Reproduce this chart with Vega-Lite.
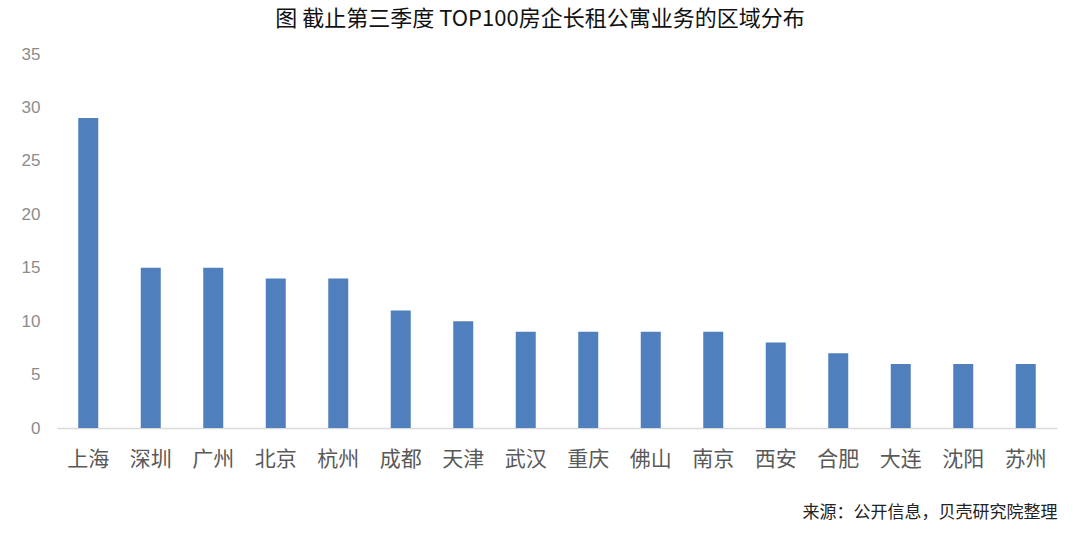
{
  "$schema": "https://vega.github.io/schema/vega-lite/v6.json",
  "autosize": "none",
  "width": 1000,
  "height": 374,
  "padding": {"left": 57, "top": 54, "right": 23, "bottom": 109},
  "background": "white",
  "title": {
    "text": "图 截止第三季度 TOP100房企长租公寓业务的区域分布",
    "font": "Noto Sans CJK SC",
    "fontSize": 22,
    "fontWeight": "normal",
    "color": "#111111",
    "anchor": "middle",
    "frame": "group",
    "dx": -17,
    "offset": 14
  },
  "data": {
    "values": [
      {"city": "上海", "value": 29},
      {"city": "深圳", "value": 15},
      {"city": "广州", "value": 15},
      {"city": "北京", "value": 14},
      {"city": "杭州", "value": 14},
      {"city": "成都", "value": 11},
      {"city": "天津", "value": 10},
      {"city": "武汉", "value": 9},
      {"city": "重庆", "value": 9},
      {"city": "佛山", "value": 9},
      {"city": "南京", "value": 9},
      {"city": "西安", "value": 8},
      {"city": "合肥", "value": 7},
      {"city": "大连", "value": 6},
      {"city": "沈阳", "value": 6},
      {"city": "苏州", "value": 6}
    ]
  },
  "mark": {"type": "bar", "color": "#4f80bd"},
  "encoding": {
    "x": {
      "field": "city",
      "type": "nominal",
      "sort": null,
      "scale": {"paddingInner": 0.68, "paddingOuter": 0.34},
      "axis": {
        "title": "来源：公开信息，贝壳研究院整理",
        "titleFont": "Noto Sans CJK SC",
        "titleFontSize": 17,
        "titleFontWeight": "normal",
        "titleColor": "#222222",
        "titleAnchor": "end",
        "titleAlign": "right",
        "titlePadding": 35,
        "labelFont": "Noto Sans CJK SC",
        "labelFontSize": 21,
        "labelColor": "#595959",
        "labelAngle": 0,
        "labelPadding": 20,
        "ticks": false,
        "domainColor": "#d9d9d9",
        "domainWidth": 1.5
      }
    },
    "y": {
      "field": "value",
      "type": "quantitative",
      "scale": {"domain": [0, 35]},
      "axis": {
        "title": null,
        "values": [0, 5, 10, 15, 20, 25, 30, 35],
        "grid": false,
        "domain": false,
        "ticks": false,
        "labelFont": "Liberation Sans",
        "labelFontSize": 17,
        "labelColor": "#8c8c8c",
        "labelPadding": 17
      }
    }
  },
  "config": {"view": {"stroke": null}}
}
